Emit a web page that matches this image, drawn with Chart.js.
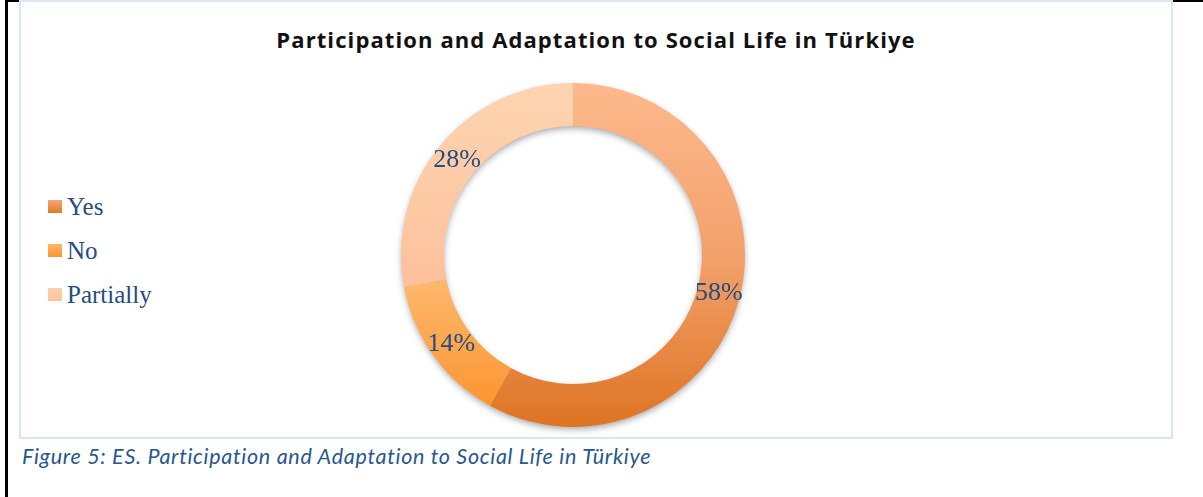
<!DOCTYPE html>
<html>
<head>
<meta charset="utf-8">
<script src="https://cdn.jsdelivr.net/npm/chart.js@4"></script>
<style>
  html, body { margin: 0; padding: 0; background: #fff; }
  #page { position: relative; width: 1203px; height: 497px; overflow: hidden; }
  .rule-top { position: absolute; left: 5px; top: 0; width: 1198px; height: 2px; background: #000; }
  .rule-left { position: absolute; left: 5px; top: 0; width: 3px; height: 497px; background: #000; }
  #box {
    position: absolute; left: 19px; top: 0; width: 1154px; height: 439px;
    box-sizing: border-box; border: 2px solid #dae5f5; background: #fff;
  }
  #donut { position: absolute; left: 0; top: 0; }
  #title {
    position: absolute; left: 0; top: 22px; width: 1150px; text-align: center;
    font: bold 22px "Open Sans", sans-serif; letter-spacing: 1.1px; color: #111;
  }
  #legend {
    position: absolute; left: 27px; top: 182.5px; margin: 0; padding: 0; list-style: none;
    font: 25px "Liberation Serif", serif; color: #264c80;
  }
  #legend li { height: 44px; display: flex; align-items: center; }
  #legend .sw { width: 14px; height: 13px; margin-right: 5px; }
  #caption {
    position: absolute; left: 22px; top: 443px;
    font: italic 21.5px Lato, sans-serif; letter-spacing: 0.7px; color: #27578c;
  }
</style>
</head>
<body>
<div id="page">
  <div class="rule-top"></div>
  <div class="rule-left"></div>
  <div id="box">
    <div id="title">Participation and Adaptation to Social Life in Türkiye</div>
    <ul id="legend"></ul>
    <canvas id="donut" width="1150" height="435"></canvas>
  </div>
  <div id="caption">Figure 5: ES. Participation and Adaptation to Social Life in Türkiye</div>
</div>
<script>
const labels = ["Yes", "No", "Partially"];
const shares = [58, 14, 28];

// vertical gradient stops for each slice, 0 = top of ring, 1 = bottom
const sliceStops = [
  [[0, "#fdb98c"], [0.5, "#f3a16c"], [1, "#de7422"]],
  [[0.55, "#fdba72"], [1, "#fc8f25"]],
  [[0, "#fed5b1"], [0.6, "#fcc09b"]]
];
const swatchCss = [
  "linear-gradient(#f4a676, #e07a2c)",
  "linear-gradient(#ffb46c, #ff962f)",
  "linear-gradient(#fed0ae, #fcc5a0)"
];
const labelColor = "#264c80";

function sliceFill(context) {
  const chart = context.chart;
  const area = chart.chartArea;
  const stops = sliceStops[context.dataIndex];
  if (!area) return stops[stops.length - 1][1];
  const g = chart.ctx.createLinearGradient(0, area.top, 0, area.bottom);
  stops.forEach(([at, color]) => g.addColorStop(at, color));
  return g;
}

// soft drop shadow under the whole ring
const ringShadow = {
  id: "ringShadow",
  beforeDatasetsDraw(chart) {
    const arc = chart.getDatasetMeta(0).data[0];
    if (!arc) return;
    const { x, y, outerRadius, innerRadius } = arc.getProps(["x", "y", "outerRadius", "innerRadius"], true);
    const ctx = chart.ctx;
    ctx.save();
    ctx.shadowColor = "rgba(0,0,0,0.38)";
    ctx.shadowBlur = 7;
    ctx.shadowOffsetY = 3;
    ctx.fillStyle = "#f0a060";
    ctx.beginPath();
    ctx.arc(x, y, outerRadius - 1, 0, Math.PI * 2);
    ctx.arc(x, y, innerRadius + 1, Math.PI * 2, 0, true);
    ctx.fill("evenodd");
    ctx.restore();
  }
};

// percentage text in the middle of each slice
const sliceLabels = {
  id: "sliceLabels",
  afterDatasetsDraw(chart) {
    const ctx = chart.ctx;
    const meta = chart.getDatasetMeta(0);
    ctx.save();
    ctx.font = '26px "Liberation Serif", serif';
    ctx.fillStyle = labelColor;
    ctx.textAlign = "center";
    ctx.textBaseline = "middle";
    meta.data.forEach((arc, i) => {
      const p = arc.tooltipPosition(true);
      ctx.fillText(shares[i] + "%", p.x, p.y + 1);
    });
    ctx.restore();
  }
};

const legend = document.getElementById("legend");
labels.forEach((name, i) => {
  const li = document.createElement("li");
  const sw = document.createElement("span");
  sw.className = "sw";
  sw.style.background = swatchCss[i];
  li.appendChild(sw);
  li.appendChild(document.createTextNode(name));
  legend.appendChild(li);
});

new Chart(document.getElementById("donut"), {
  type: "doughnut",
  data: {
    labels,
    datasets: [{
      data: shares,
      backgroundColor: sliceFill,
      borderWidth: 0,
      hoverOffset: 0
    }]
  },
  options: {
    responsive: false,
    animation: false,
    cutout: "75%",
    layout: { padding: { top: 81, bottom: 10, left: 0, right: 46 } },
    plugins: {
      legend: { display: false },
      tooltip: { enabled: false }
    }
  },
  plugins: [ringShadow, sliceLabels]
});
</script>
</body>
</html>
